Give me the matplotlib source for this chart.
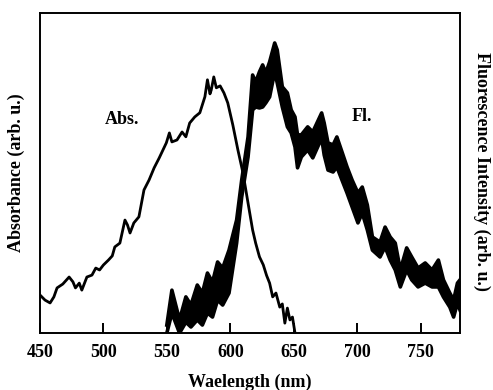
import matplotlib.pyplot as plt
import numpy as np

plt.rcParams['font.family'] = ['Liberation Serif', 'DejaVu Serif']
plt.rcParams['font.weight'] = 'bold'

# absorbance spectrum (arb. u., 0-100 of the frame height)
abs_nm = [450, 454, 458, 461, 463.5, 468, 473, 476, 478, 481, 483, 487, 491, 494, 497, 500, 504, 507,
          509, 513, 517, 519, 521, 524, 528, 532, 536, 540, 544, 549.6, 552, 554, 558, 562, 565,
          568, 572, 576, 580, 582, 584, 585, 587, 589, 592, 595, 598, 602, 606, 610, 614, 617.6,
          620, 623, 626, 628.6, 631, 633.4, 636, 639, 641, 643, 645, 647, 649, 651]
abs_val = [11.9, 10.3, 9.4, 11.3, 14.1, 15.3, 17.5, 16.0, 14.1, 15.6, 13.4, 17.5, 18.1, 20.3, 19.7, 21.25, 22.8,
           24.1, 26.9, 28.1, 35.3, 33.75, 31.25, 34.4, 36.3, 44.7, 47.8, 51.6, 54.7, 59.4, 62.5, 59.7,
           60.3, 62.8, 61.3, 65.6, 67.5, 68.8, 73.8, 79.1, 74.7, 75.9, 80.0, 76.6, 77.2, 75.0, 71.9,
           65.0, 57.2, 50.0, 40.6, 32.2, 28.1, 23.8, 21.3, 18.0, 15.6, 11.3, 12.5, 8.1, 9.1, 3.1,
           7.8, 4.1, 5.0, 0.0]

# fluorescence spectrum, upper and lower edge of the noisy band
fl_nm = [550, 554, 560, 565, 569, 574, 578, 582, 586, 590, 594, 599, 605, 609, 614, 617.6, 620,
         623, 625.5, 628, 631, 635, 637, 641, 645, 648, 651, 653, 656, 661, 665, 672, 674, 677,
         681, 684, 688, 692, 696, 700.6, 704, 708, 712, 718, 722, 726, 730, 734, 739, 743, 748,
         753.6, 759, 764, 768, 773, 776, 779, 781]
fl_top = [2.5, 13.4, 4.1, 11.3, 8.75, 15.0, 12.5, 18.75, 15.9, 22.2, 20.3, 25.9, 35.3, 47.8, 61.25, 80.6, 78.4,
          81.6, 83.75, 81.25, 84.7, 90.6, 88.4, 76.9, 75.0, 69.7, 67.5, 61.9, 61.9, 64.4, 62.8, 68.75, 65.6, 59.4,
          58.75, 61.25, 56.6, 51.9, 47.8, 43.75, 45.6, 40.0, 30.0, 28.4, 33.1, 30.0, 28.1, 19.7, 26.6, 23.75, 20.3,
          21.9, 19.7, 22.8, 16.6, 12.5, 10.3, 15.6, 16.6]
fl_low = [0.0, 6.25, 0.0, 3.4, 1.9, 4.1, 2.5, 6.25, 5.0, 10.3, 8.75, 12.5, 28.1, 42.5, 55.0, 69.7, 70.6,
          70.3, 70.6, 71.9, 73.75, 81.6, 78.1, 70.6, 64.4, 62.5, 58.1, 51.6, 55.0, 57.2, 54.7, 60.9, 55.6, 50.9,
          50.3, 51.9, 47.8, 43.75, 39.4, 34.4, 37.5, 32.2, 25.9, 23.75, 26.9, 22.8, 19.7, 14.4, 19.7, 16.6, 14.4,
          15.6, 14.4, 14.4, 11.25, 8.1, 5.0, 9.4, 7.2]

fig = plt.figure(figsize=(4.93, 3.90), dpi=100)
ax = fig.add_axes([0.081, 0.146, 0.852, 0.821])

ax.plot(abs_nm, abs_val, color='black', lw=2.0)
ax.fill_between(fl_nm, fl_low, fl_top, color='black', lw=0)
ax.plot(fl_nm, fl_top, color='black', lw=2.6)
ax.plot(fl_nm, fl_low, color='black', lw=2.6)

ax.text(515, 66.6, 'Abs.', fontsize=13, fontweight='bold', ha='center', va='center')
ax.text(704, 67.5, 'Fl.', fontsize=13, fontweight='bold', ha='center', va='center')

ax.set_xlim(450, 781)
ax.set_ylim(0, 100)
ax.set_xticks([450, 500, 550, 600, 650, 700, 750])
ax.set_yticks([])
ax.tick_params(axis='x', direction='in', length=7, width=1.4, labelsize=13, pad=8)
for s in ax.spines.values():
    s.set_linewidth(1.4)

ax.set_xlabel('Waelength (nm)', fontsize=13, fontweight='bold', labelpad=9)
ax.set_ylabel('Absorbance (arb. u.)', fontsize=13, fontweight='bold', labelpad=11)
fig.text(0.978, 0.56, 'Fluorescence Intensity (arb. u.)', fontsize=13, fontweight='bold',
         rotation=-90, ha='center', va='center')

fig.savefig('out.png', dpi=100)
